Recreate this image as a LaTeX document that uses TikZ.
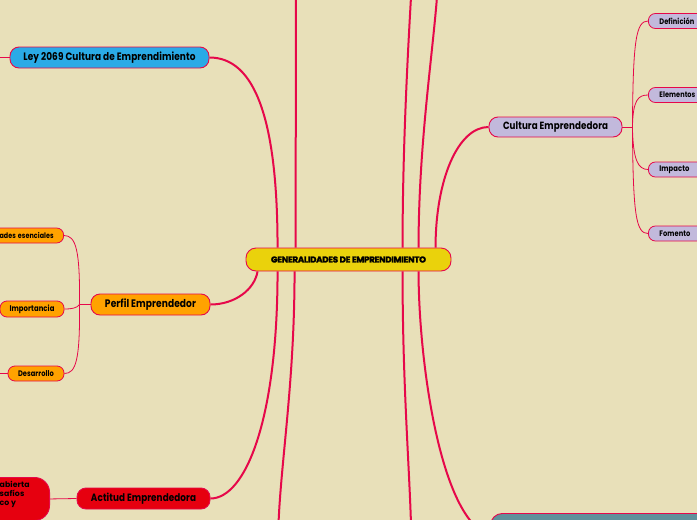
\documentclass[tikz,border=0pt]{standalone}
\usepackage{fontspec}
\usepackage{graphicx}
\setmainfont{Poppins}
\newfontfamily\spaced[LetterSpace=1]{Poppins}
\newfontfamily\heavy[BoldFeatures={FakeBold=2.5},LetterSpace=-3]{Poppins}
\definecolor{bg}{HTML}{E8E0B9}
\definecolor{crim}{HTML}{E6084A}
\definecolor{cyel}{HTML}{EAD20C}
\definecolor{cblue}{HTML}{2AAAE6}
\definecolor{corange}{HTML}{FFA200}
\definecolor{clav}{HTML}{C2B9DC}
\definecolor{cred}{HTML}{E6000F}
\definecolor{cteal}{HTML}{5F919B}
\newcommand\fitw[2]{\scalebox{1}[1.2]{\resizebox{#1pt}{!}{\spaced\bfseries #2}}}
\begin{document}
\begin{tikzpicture}[x=1pt,y=-1pt,
 box/.style={draw=crim, line width=0.9pt, inner sep=0pt, rounded corners=9pt, minimum height=21pt},
 kid/.style={draw=crim, line width=0.8pt, inner sep=0pt, rounded corners=7pt, minimum height=15pt},
 conn/.style={draw=crim, line width=2pt},
 thin/.style={draw=crim, line width=0.8pt}]
\fill[bg] (0,0) rectangle (697,520);
\useasboundingbox (0,0) rectangle (697,520);
\clip (0,0) rectangle (697,520);

% free ends
\coordinate (t1) at (296,-3);
\coordinate (t2) at (411,-3);
\coordinate (t3) at (437,-3);
\coordinate (b1) at (278.5,524);
\coordinate (b2) at (411,524);
\coordinate (e1) at (0,57.5);
\coordinate (e2) at (0,373.5);

% main nodes
\node[box, fill=cyel, minimum width=205pt, minimum height=23pt, rounded corners=10pt] (c) at (348.5,259.5) {\resizebox{155pt}{6pt}{\heavy\bfseries GENERALIDADES DE EMPRENDIMIENTO}};
\node[box, fill=cblue, minimum width=199pt] (ley) at (109.5,57.5) {\fitw{172}{Ley 2069 Cultura de Emprendimiento}};
\node[box, fill=clav, minimum width=133pt, minimum height=20pt] (cul) at (555.5,127) {\fitw{105}{Cultura Emprendedora}};
\node[box, fill=corange, minimum width=119pt] (per) at (150.5,304.5) {\fitw{91}{Perfil Emprendedor}};
\node[box, fill=cred, minimum width=133pt] (act) at (143.5,498.5) {\fitw{105}{Actitud Emprendedora}};
\node[box, fill=cteal, minimum width=260pt, minimum height=44pt, anchor=north west, rounded corners=12pt] (teal) at (490,513) {};
\node[box, fill=cred, rounded corners=15pt, minimum width=120pt, minimum height=43pt, anchor=north east] (rb) at (50,477) {};
\node[anchor=north west, align=left, inner sep=0pt, font=\spaced\bfseries\fontsize{7.8}{9}\selectfont] (rbt) at (-0.5,481.5) {abierta\\safíos\\co y};

% orange children
\node[kid, fill=corange, anchor=east, text width=80pt, align=right, inner xsep=10pt] (cap) at (64,235.5) {\fitw{54}{ades esenciales}};
\node[kid, fill=corange, minimum width=64pt, minimum height=16pt] (imp) at (32,309) {\fitw{45}{Importancia}};
\node[kid, fill=corange, minimum width=56pt] (des) at (36,373.5) {\fitw{36}{Desarrollo}};

% lavender children
\node[kid, fill=clav, anchor=west, text width=50pt, align=left, inner xsep=11pt] (def) at (648,21) {\fitw{35}{Definición}};
\node[kid, fill=clav, anchor=west, text width=50pt, align=left, inner xsep=11pt] (ele) at (648,95) {\fitw{36}{Elementos}};
\node[kid, fill=clav, anchor=west, text width=50pt, align=left, inner xsep=11pt] (imc) at (648,169.5) {\fitw{30}{Impacto}};
\node[kid, fill=clav, anchor=west, text width=50pt, align=left, inner xsep=11pt] (fom) at (648,233.5) {\fitw{31}{Fomento}};

% main connectors
\draw[conn] ([xshift=32pt]c.north west) .. controls +(0,-128) and (255,57.5) .. (ley.east);
\draw[conn] ([xshift=12pt]c.south west) .. controls +(-3,18) and (235,304.5) .. (per.east);
\draw[conn] ([xshift=32pt]c.south west) .. controls +(0,150) and (245,498.5) .. (act.east);
\draw[conn] ([xshift=50pt]c.north west) -- (t1);
\draw[conn] ([xshift=49pt]c.south west) .. controls +(0,110) and (281,460) .. (b1);
\draw[conn] ([xshift=157pt]c.north west) .. controls +(0,-100) and (408,50) .. (t2);
\draw[conn] ([xshift=173pt]c.north west) .. controls +(0,-100) and (432,60) .. (t3);
\draw[conn] ([xshift=190pt]c.north west) .. controls +(0,-68) and (458,127) .. (cul.west);
\draw[conn] ([xshift=157pt]c.south west) .. controls +(0,110) and (409,460) .. (b2);
\draw[conn] ([xshift=173pt]c.south west) .. controls +(0,88) and (440,520) .. (teal.west);

% thin connectors
\draw[thin] (ley.west) -- (e1);
\draw[thin] (des.west) -- (e2);
\draw[thin] (rb.east) -- (act.west);
\draw[thin] (cul.east) -- ++(10,0) coordinate (cj);
\draw[thin] (cj) .. controls (633,40) and (636,21) .. (def.west);
\draw[thin] (cj) .. controls (633,100) and (638,95) .. (ele.west);
\draw[thin] (cj) .. controls (633,160) and (638,169.5) .. (imc.west);
\draw[thin] (cj) .. controls (633,215) and (636,233.5) .. (fom.west);
\draw[thin] (per.west) -- ++(-11,0) coordinate (pj);
\draw[thin] (pj) .. controls (80,250) and (76,235.5) .. (cap.east);
\draw[thin] (pj) .. controls (77,308) and (72,309) .. (imp.east);
\draw[thin] (pj) .. controls (80,360) and (76,373.5) .. (des.west -| des.east);
\end{tikzpicture}
\end{document}
